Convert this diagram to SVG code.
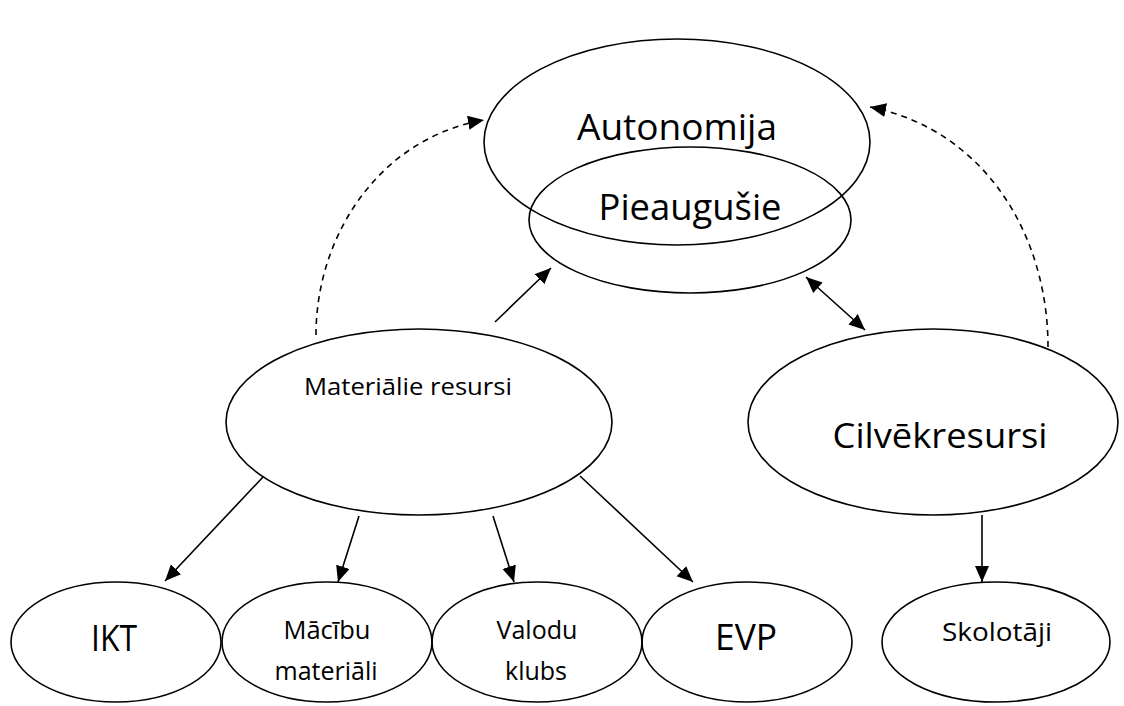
<svg xmlns="http://www.w3.org/2000/svg" width="1124" height="706" viewBox="0 0 1124 706">
<style>
.n{fill:none;stroke:#000;stroke-width:1.6}
.t{font-family:"Open Sans","Liberation Sans",sans-serif;fill:#000;text-anchor:middle}
.c{fill:none;stroke:#000;stroke-width:1.6}
.d{stroke-dasharray:6,5}
</style>
<defs>
<marker id="ah" markerUnits="userSpaceOnUse" markerWidth="18" markerHeight="16" refX="16" refY="7" orient="auto"><path d="M0,0 L16,7 L0,14 Z" fill="#000"/></marker>
<marker id="as" markerUnits="userSpaceOnUse" markerWidth="18" markerHeight="16" refX="0" refY="7" orient="auto"><path d="M16,0 L0,7 L16,14 Z" fill="#000"/></marker>
</defs>
<rect width="1124" height="706" fill="#fff"/>
<g id="autonomija"><ellipse class="n" cx="677" cy="142" rx="193" ry="103"/><text class="t" x="677" y="140" font-size="36" textLength="200" lengthAdjust="spacingAndGlyphs">Autonomija</text></g>
<g id="pieaugusie"><ellipse class="n" cx="690" cy="220" rx="161" ry="73"/><text class="t" x="690" y="220" font-size="36" textLength="183" lengthAdjust="spacingAndGlyphs">Pieaugušie</text></g>
<g id="materialie"><ellipse class="n" cx="419" cy="422" rx="193" ry="93"/><text class="t" x="408" y="395" font-size="24" textLength="208" lengthAdjust="spacingAndGlyphs">Materiālie resursi</text></g>
<g id="cilvekresursi"><ellipse class="n" cx="933" cy="422" rx="185" ry="93"/><text class="t" x="940" y="448" font-size="35" textLength="215" lengthAdjust="spacingAndGlyphs">Cilvēkresursi</text></g>
<g id="ikt"><ellipse class="n" cx="116" cy="642" rx="105" ry="60"/><text class="t" x="114" y="651" font-size="36" textLength="46" lengthAdjust="spacingAndGlyphs">IKT</text></g>
<g id="macibu"><ellipse class="n" cx="327" cy="642" rx="105" ry="60"/><text class="t" x="327" y="639" font-size="25" textLength="87" lengthAdjust="spacingAndGlyphs">Mācību</text><text class="t" x="326" y="680" font-size="25" textLength="103" lengthAdjust="spacingAndGlyphs">materiāli</text></g>
<g id="valodu"><ellipse class="n" cx="537" cy="642" rx="105" ry="60"/><text class="t" x="537" y="639" font-size="25" textLength="81" lengthAdjust="spacingAndGlyphs">Valodu</text><text class="t" x="536" y="680" font-size="25" textLength="62" lengthAdjust="spacingAndGlyphs">klubs</text></g>
<g id="evp"><ellipse class="n" cx="747" cy="642" rx="105" ry="60"/><text class="t" x="746" y="650" font-size="36" textLength="62" lengthAdjust="spacingAndGlyphs">EVP</text></g>
<g id="skolotaji"><ellipse class="n" cx="996" cy="642" rx="114" ry="60"/><text class="t" x="997" y="641" font-size="25" textLength="110" lengthAdjust="spacingAndGlyphs">Skolotāji</text></g>
<g id="connectors">
<path class="c" d="M495,322 L551,268" marker-end="url(#ah)"/>
<path class="c" d="M806,277 L865,330" marker-start="url(#as)" marker-end="url(#ah)"/>
<path class="c d" d="M316,335 C316,235 380,138 484,120" marker-end="url(#ah)"/>
<path class="c d" d="M1048,347 C1048,235 985,130 870,107" marker-end="url(#ah)"/>
<path class="c" d="M263,477 L165,581" marker-end="url(#ah)"/>
<path class="c" d="M359,516 L338,582" marker-end="url(#ah)"/>
<path class="c" d="M493,516 L514,582" marker-end="url(#ah)"/>
<path class="c" d="M580,476 L693,582" marker-end="url(#ah)"/>
<path class="c" d="M982,515 L982,582" marker-end="url(#ah)"/>
</g>
</svg>
